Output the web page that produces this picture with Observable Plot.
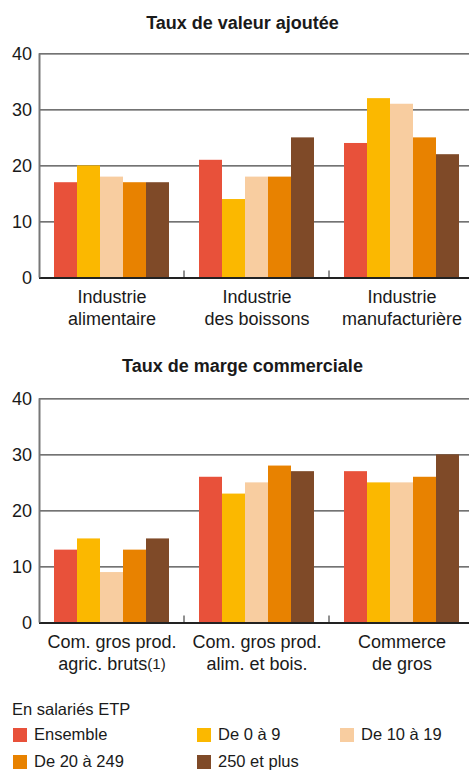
<!DOCTYPE html>
<html>
<head>
<meta charset="utf-8">
<script src="https://cdn.jsdelivr.net/npm/d3@7"></script>
<script src="https://cdn.jsdelivr.net/npm/@observablehq/plot@0.6"></script>
<style>
  html, body { margin: 0; padding: 0; background: #fff; overflow: hidden; }
  #root { position: relative; width: 469px; height: 771px; font-family: "Liberation Sans", Arial, sans-serif; color: #1a1a1a; }
  .title { position: absolute; left: 16px; width: 453px; text-align: center; font-weight: bold; font-size: 18px; line-height: 20px; }
  .panel { position: absolute; left: 0; }
  .legend { position: absolute; left: 0; top: 0; width: 469px; font-size: 16.5px; }
  .legend .head { position: absolute; left: 12px; top: 699px; line-height: 20px; }
  .legend .item { position: absolute; line-height: 20px; white-space: nowrap; }
  .legend .sw { position: absolute; left: -21px; top: 4px; width: 14px; height: 14px; }
</style>
</head>
<body>
<div id="root">
  <div class="title" style="top:13px">Taux de valeur ajoutée</div>
  <div class="panel" id="p1" style="top:40px"></div>
  <div class="title" style="top:356px">Taux de marge commerciale</div>
  <div class="panel" id="p2" style="top:385px"></div>
  <div class="legend" id="legend"><div class="head">En salariés ETP</div></div>
</div>
<script>
// ---- data ----
const series = ["Ensemble", "De 0 à 9", "De 10 à 19", "De 20 à 249", "250 et plus"];
const colors = ["#E8513A", "#FBB800", "#F8CDA0", "#E88200", "#7F4A28"];
const yTicks = [0, 10, 20, 30, 40];

const groupsVA = ["Industrie\nalimentaire", "Industrie\ndes boissons", "Industrie\nmanufacturière"];
const valuesVA = [
  [17, 20, 18, 17, 17],
  [21, 14, 18, 18, 25],
  [24, 32, 31, 25, 22]
];

const groupsMC = ["Com. gros prod.\nagric. bruts(1)", "Com. gros prod.\nalim. et bois.", "Commerce\nde gros"];
const valuesMC = [
  [13, 15, 9, 13, 15],
  [26, 23, 25, 28, 27],
  [27, 25, 25, 26, 30]
];

function chart(groups, values) {
  const data = groups.flatMap((g, i) => series.map((s, j) => ({group: g, series: s, value: values[i][j]})));
  const plot = Plot.plot({
    width: 469,
    height: 300,
    marginTop: 13.3,
    marginBottom: 62.5,
    marginLeft: 38,
    marginRight: -5.5,
    style: {fontFamily: '"Liberation Sans", Arial, sans-serif', fontSize: "18px", color: "#1a1a1a", background: "transparent", overflow: "visible"},
    fx: {domain: groups, padding: 0, label: null},
    x: {domain: series, paddingInner: 0, paddingOuter: 0.62, axis: null},
    y: {domain: [0, 40], label: null, axis: null},
    color: {domain: series, range: colors},
    marks: [
      Plot.gridY(yTicks, {stroke: "#444", strokeOpacity: 1, strokeWidth: 1.2}),
      Plot.barY(data, {fx: "group", x: "series", y: "value", fill: "series"}),
      Plot.ruleY([0], {stroke: "#222", strokeWidth: 2}),
      Plot.axisY(yTicks, {tickSize: 0, tickPadding: 7.5, label: null, fontSize: 18, fill: "#1a1a1a"}),
      Plot.axisFx({anchor: "bottom", tickSize: 0, tickPadding: 9, label: null, fontSize: 18, lineHeight: 1.22, fill: "#1a1a1a"})
    ]
  });
  // left axis line and group separator ticks, positioned through the plot's scales
  const fx = plot.scale("fx"), y = plot.scale("y");
  const svg = d3.select(plot.tagName === "svg" ? plot : plot.querySelector("svg"));
  svg.append("line")
    .attr("x1", fx.apply(groups[0]) + 0.5).attr("x2", fx.apply(groups[0]) + 0.5)
    .attr("y1", y.apply(40)).attr("y2", y.apply(0))
    .attr("stroke", "#777").attr("stroke-width", 2);
  groups.slice(1).forEach(g => {
    svg.append("line")
      .attr("x1", fx.apply(g)).attr("x2", fx.apply(g))
      .attr("y1", y.apply(0) - 7).attr("y2", y.apply(0))
      .attr("stroke", "#222").attr("stroke-width", 1);
  });
  // smaller footnote marker "(1)"
  svg.selectAll("tspan, text").each(function() {
    if (this.childNodes.length === 1 && this.firstChild.nodeType === 3 && this.textContent.endsWith("(1)")) {
      const t = this.textContent;
      this.textContent = t.slice(0, -3);
      d3.select(this).append("tspan").attr("font-size", 15).attr("dy", -1).text("(1)");
    }
  });
  return plot;
}

document.getElementById("p1").appendChild(chart(groupsVA, valuesVA));
document.getElementById("p2").appendChild(chart(groupsMC, valuesMC));

// legend
const legendPos = [[34, 728], [218, 728], [361, 728], [34, 755], [218, 755]];
const legend = document.getElementById("legend");
series.forEach((s, i) => {
  const it = document.createElement("div");
  it.className = "item";
  it.style.left = legendPos[i][0] + "px";
  it.style.top = (legendPos[i][1] - 4) + "px";
  const sw = document.createElement("span");
  sw.className = "sw";
  sw.style.background = colors[i];
  it.appendChild(sw);
  it.appendChild(document.createTextNode(s));
  legend.appendChild(it);
});
</script>
</body>
</html>
